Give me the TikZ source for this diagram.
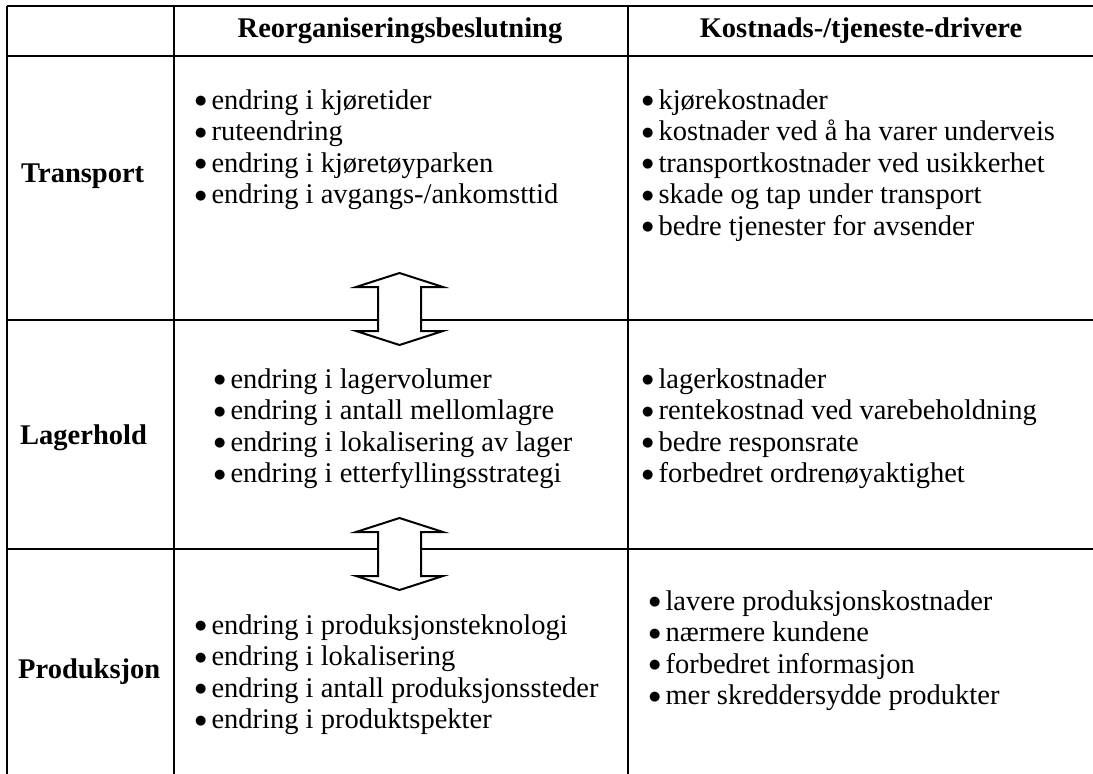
\documentclass[tikz,border=0pt]{standalone}
\usepackage{fontspec}
\setmainfont{Liberation Serif}
\newfontfamily\dotfont{DejaVu Sans}
\usepackage{tikz}

\newcommand\cellfont{\fontsize{28.5}{31.5}\selectfont}
\newcommand\itembullet{\raisebox{4.2pt}{\fontsize{13}{13}\dotfont ●}\hspace{5pt}}

\tikzset{
  tbl/.style={line width=2.5pt},
  hdr/.style={font=\cellfont\bfseries, inner sep=0pt},
  rowlbl/.style={font=\cellfont\bfseries, inner sep=0pt, anchor=west},
  item/.style={font=\cellfont, anchor=base west, inner sep=0pt},
  dblarrow/.pic={
    \draw[line width=2pt, fill=white, line join=miter]
      (0,-36) -- (43.5,-22) -- (21.5,-22) -- (21.5,22) -- (43.5,22) -- (0,36)
      -- (-43.5,22) -- (-21.5,22) -- (-21.5,-22) -- (-43.5,-22) -- cycle;
  },
}

\begin{document}
\begin{tikzpicture}[x=1pt, y=-1pt]
  \useasboundingbox (0,0) rectangle (1093,774);
  % table grid
  \foreach \y in {6, 56, 320, 549} { \draw[tbl] (7,\y) -- (1093,\y); }
  \foreach \x in {7, 174, 628} { \draw[tbl] (\x,6) -- (\x,774); }
  % headers
  \node[hdr] (hreorg) at (400,31) {Reorganiseringsbeslutning};
  \node[hdr] (hdriv) at (861,31) {Kostnads-/tjeneste-drivere};
  % row labels
  \node[rowlbl] (ltr) at (21,176) {Transport};
  \node[rowlbl] (llag) at (20,438) {Lagerhold};
  \node[rowlbl] (lprod) at (18,672) {Produksjon};
  % transport
  \foreach \t [count=\k] in {endring i kjøretider, ruteendring, endring i kjøretøyparken, endring i avgangs-/ankomsttid}
    \node[item] (tra\k) at (195, 77.5+31.5*\k) {\itembullet\t};
  \foreach \t [count=\k] in {kjørekostnader, kostnader ved å ha varer underveis, transportkostnader ved usikkerhet, skade og tap under transport, bedre tjenester for avsender}
    \node[item] (trb\k) at (642, 77.5+31.5*\k) {\itembullet\t};
  % lagerhold
  \foreach \t [count=\k] in {endring i lagervolumer, endring i antall mellomlagre, endring i lokalisering av lager, endring i etterfyllingsstrategi}
    \node[item] (laa\k) at (214, 356.5+31.5*\k) {\itembullet\t};
  \foreach \t [count=\k] in {lagerkostnader, rentekostnad ved varebeholdning, bedre responsrate, forbedret ordrenøyaktighet}
    \node[item] (lab\k) at (642, 356.5+31.5*\k) {\itembullet\t};
  % produksjon
  \foreach \t [count=\k] in {endring i produksjonsteknologi, endring i lokalisering, endring i antall produksjonssteder, endring i produktspekter}
    \node[item] (pra\k) at (195, 602.5+31.5*\k) {\itembullet\t};
  \foreach \t [count=\k] in {lavere produksjonskostnader, nærmere kundene, forbedret informasjon, mer skreddersydde produkter}
    \node[item] (prb\k) at (649, 578.5+31.5*\k) {\itembullet\t};
  % double arrows between rows
  \pic at (399.5,309) {dblarrow};
  \pic at (399.5,554) {dblarrow};
\end{tikzpicture}
\end{document}
